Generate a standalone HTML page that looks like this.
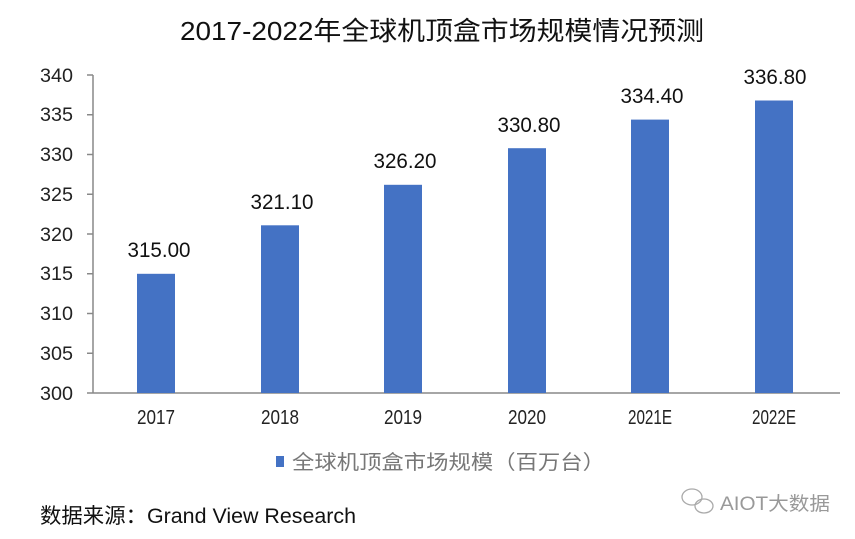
<!DOCTYPE html>
<html><head><meta charset="utf-8"><style>
html,body{margin:0;padding:0;background:#fff;width:855px;height:539px;overflow:hidden}
svg{display:block}
text{font-family:"Liberation Sans","Noto Sans CJK SC",sans-serif}
</style></head><body>
<svg width="855" height="539" viewBox="0 0 855 539" xmlns="http://www.w3.org/2000/svg">
<text x="442" y="40" font-size="26" text-anchor="middle" fill="#111" textLength="524" lengthAdjust="spacingAndGlyphs">2017-2022年全球机顶盒市场规模情况预测</text>
<g stroke="#888" stroke-width="1.5">
<line x1="93" y1="75" x2="93" y2="393"/>
<line x1="93" y1="393" x2="840" y2="393"/>
<line x1="87" y1="75" x2="93" y2="75"/><line x1="87" y1="114.75" x2="93" y2="114.75"/>
<line x1="87" y1="154.5" x2="93" y2="154.5"/><line x1="87" y1="194.25" x2="93" y2="194.25"/>
<line x1="87" y1="234" x2="93" y2="234"/><line x1="87" y1="273.75" x2="93" y2="273.75"/>
<line x1="87" y1="313.5" x2="93" y2="313.5"/><line x1="87" y1="353.25" x2="93" y2="353.25"/>
<line x1="87" y1="393" x2="93" y2="393"/>
</g>
<g font-size="19" fill="#222" text-anchor="end">
<text x="73" y="82" textLength="33" lengthAdjust="spacingAndGlyphs">340</text>
<text x="73" y="121" textLength="33" lengthAdjust="spacingAndGlyphs">335</text>
<text x="73" y="161" textLength="33" lengthAdjust="spacingAndGlyphs">330</text>
<text x="73" y="201" textLength="33" lengthAdjust="spacingAndGlyphs">325</text>
<text x="73" y="241" textLength="33" lengthAdjust="spacingAndGlyphs">320</text>
<text x="73" y="280" textLength="33" lengthAdjust="spacingAndGlyphs">315</text>
<text x="73" y="320" textLength="33" lengthAdjust="spacingAndGlyphs">310</text>
<text x="73" y="360" textLength="33" lengthAdjust="spacingAndGlyphs">305</text>
<text x="73" y="400" textLength="33" lengthAdjust="spacingAndGlyphs">300</text>
</g>
<g fill="#4472C4">
<rect x="137" y="273.8" width="38" height="119.2"/>
<rect x="261" y="225.3" width="38" height="167.7"/>
<rect x="384" y="184.8" width="38" height="208.2"/>
<rect x="508" y="148.2" width="38" height="244.8"/>
<rect x="631" y="119.6" width="38" height="273.4"/>
<rect x="755" y="100.5" width="38" height="292.5"/>
</g>
<g font-size="21" fill="#111" text-anchor="middle">
<text x="159" y="257" textLength="63" lengthAdjust="spacingAndGlyphs">315.00</text>
<text x="282" y="209" textLength="63" lengthAdjust="spacingAndGlyphs">321.10</text>
<text x="405" y="168" textLength="63" lengthAdjust="spacingAndGlyphs">326.20</text>
<text x="529" y="132" textLength="63" lengthAdjust="spacingAndGlyphs">330.80</text>
<text x="652" y="103" textLength="63" lengthAdjust="spacingAndGlyphs">334.40</text>
<text x="775" y="84" textLength="63" lengthAdjust="spacingAndGlyphs">336.80</text>
</g>
<g font-size="20" fill="#222" text-anchor="middle">
<text x="156" y="424" textLength="38" lengthAdjust="spacingAndGlyphs">2017</text>
<text x="280" y="424" textLength="38" lengthAdjust="spacingAndGlyphs">2018</text>
<text x="403" y="424" textLength="38" lengthAdjust="spacingAndGlyphs">2019</text>
<text x="527" y="424" textLength="38" lengthAdjust="spacingAndGlyphs">2020</text>
<text x="650" y="424" textLength="44" lengthAdjust="spacingAndGlyphs">2021E</text>
<text x="774" y="424" textLength="44" lengthAdjust="spacingAndGlyphs">2022E</text>
</g>
<rect x="276" y="456" width="8" height="11" fill="#4472C4"/>
<text x="292" y="469" font-size="20" fill="#777" textLength="313" lengthAdjust="spacingAndGlyphs">全球机顶盒市场规模（百万台）</text>
<text x="40" y="523" font-size="21" fill="#111" textLength="316" lengthAdjust="spacingAndGlyphs">数据来源：Grand View Research</text>
<g fill="none" stroke="#aaa" stroke-width="1.3">
<ellipse cx="692" cy="497" rx="10" ry="8"/>
<ellipse cx="704" cy="506" rx="9" ry="7"/>
</g>
<text x="720" y="510" font-size="19" fill="#999" textLength="110" lengthAdjust="spacingAndGlyphs">AIOT大数据</text>
</svg>
</body></html>
